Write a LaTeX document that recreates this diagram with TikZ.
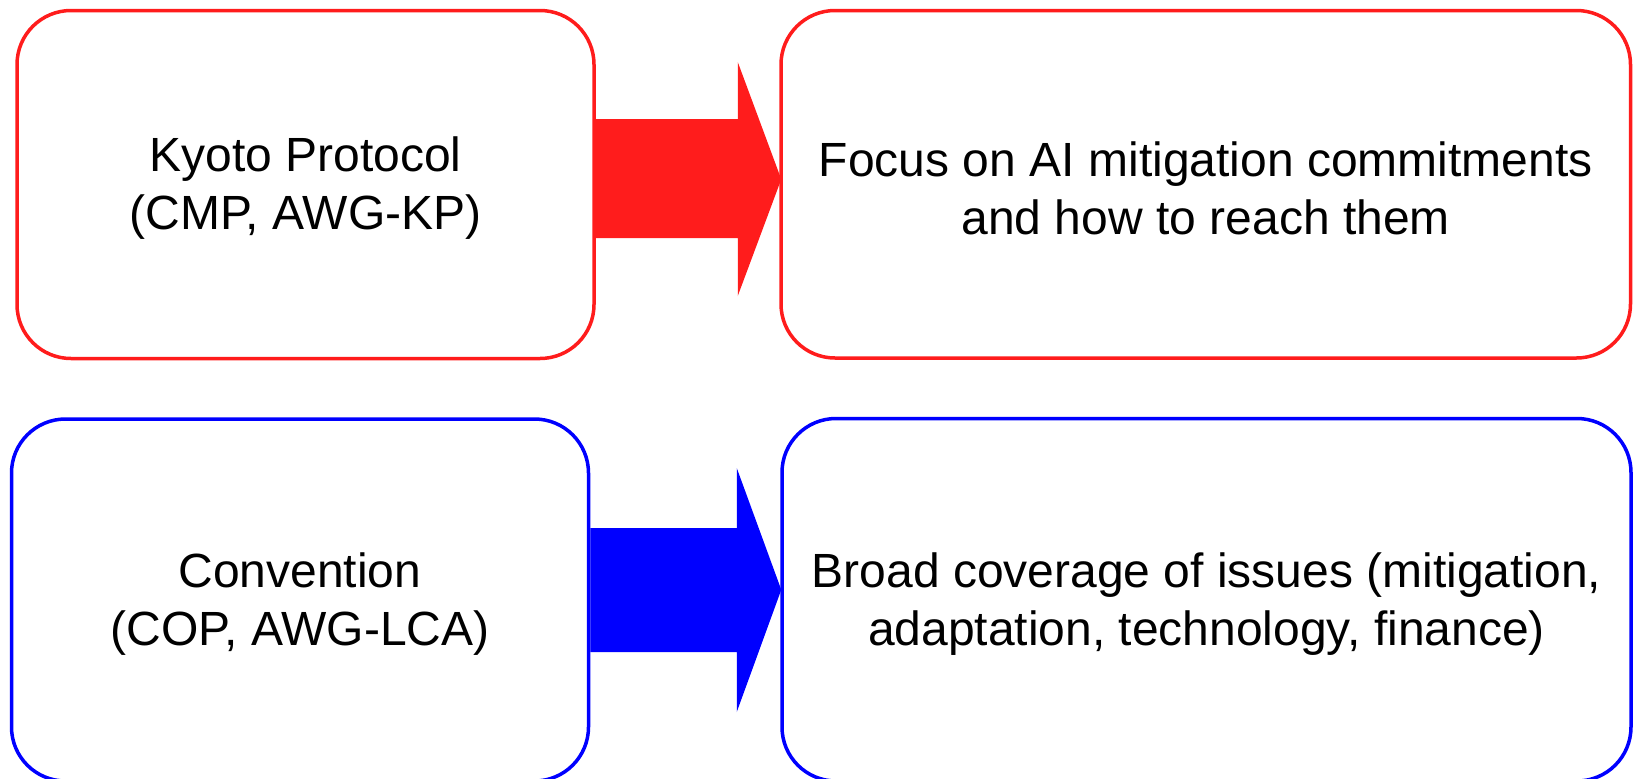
\documentclass[tikz,border=0pt]{standalone}
\usepackage{fontspec}
\setmainfont{Liberation Sans}
\usetikzlibrary{calc}
\definecolor{kred}{RGB}{255,28,28}
\definecolor{kblue}{RGB}{0,0,255}
\begin{document}
\begin{tikzpicture}[x=0.5pt,y=-0.5pt,
  card/.style={draw,line width=1.75pt,rounded corners=27pt,fill=white,inner sep=0pt},
  redcard/.style={card,draw=kred},
  bluecard/.style={card,draw=kblue},
  cardtext/.style={align=center,inner sep=0pt,yshift=-2pt,
    font=\fontsize{24pt}{29pt}\selectfont}]
\useasboundingbox (0,0) rectangle (1635,778);
\begin{scope}
\clip (0,0) rectangle (1635,778);
\node[redcard,minimum width=288.5pt,minimum height=174pt] (kp) at (305.5,184.5) {};
\node[cardtext] (kpt) at (kp.center) {Kyoto Protocol\\(CMP, AWG-KP)};
\node[redcard,minimum width=424.75pt,minimum height=173.75pt] (fo) at (1205.75,184.25) {};
\node[cardtext] (fot) at (fo.center) {Focus on AI mitigation commitments\\and how to reach them};
\node[bluecard,minimum width=288.5pt,minimum height=181pt] (cv) at (300,600) {};
\node[cardtext] (cvt) at (cv.center) {Convention\\(COP, AWG-LCA)};
\node[bluecard,minimum width=424.5pt,minimum height=181.25pt] (br) at (1206.5,599.75) {};
\node[cardtext] (brt) at (br.center) {Broad coverage of issues (mitigation,\\adaptation, technology, finance)};
\fill[kred] ($(kp.east)+(0,-65.5)$) -- ($(kp.east)+(142,-65.5)$)
  -- ($(kp.east)+(142,-122.5)$) -- ($(fo.west)+(2,-5)$)
  -- ($(kp.east)+(142,111.5)$) -- ($(kp.east)+(142,53.5)$)
  -- ($(kp.east)+(0,53.5)$) -- cycle;
\fill[kblue] ($(cv.east)+(0,-72)$) -- ($(cv.east)+(146.5,-72)$)
  -- ($(cv.east)+(146.5,-132)$) -- ($(br.west)+(1,-10)$)
  -- ($(cv.east)+(146.5,112)$) -- ($(cv.east)+(146.5,52)$)
  -- ($(cv.east)+(0,52)$) -- cycle;
\end{scope}
\end{tikzpicture}
\end{document}
